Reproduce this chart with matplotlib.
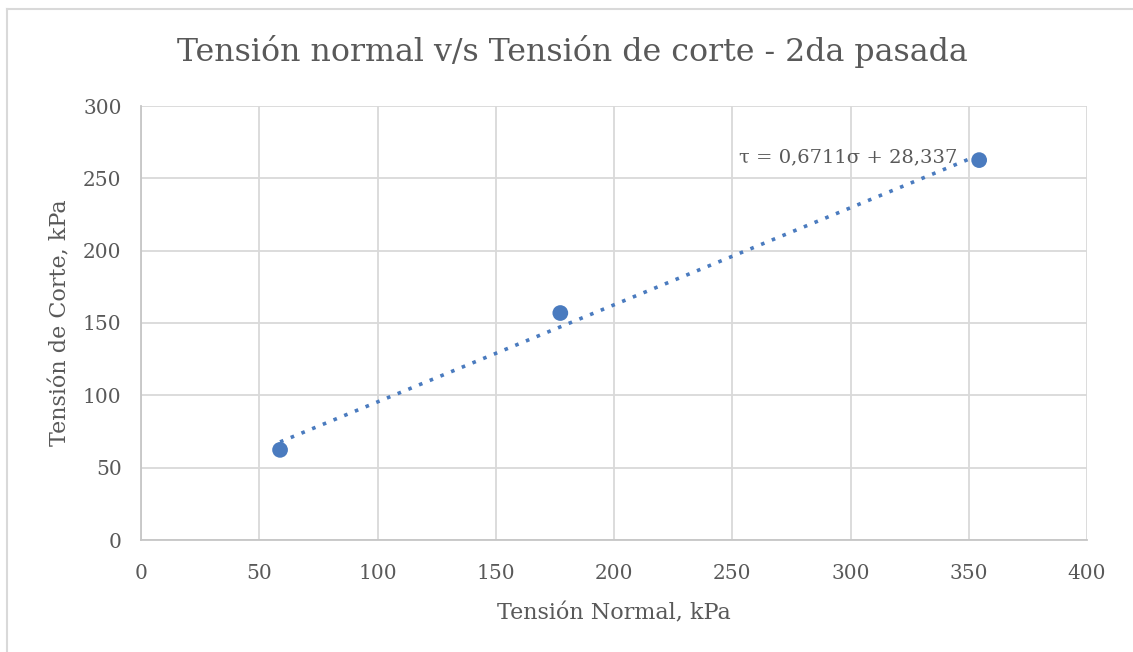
import numpy as np
import matplotlib
matplotlib.use("Agg")
import matplotlib.pyplot as plt
from matplotlib.lines import Line2D

# Ensayo de corte directo - segunda pasada
tension_normal = [58.8, 177.3, 354.4]      # kPa
tension_corte = [62.3, 156.9, 262.6]       # kPa
pendiente = 0.6711
intercepto = 28.337

x_ticks = [0, 50, 100, 150, 200, 250, 300, 350, 400]
y_ticks = [0, 50, 100, 150, 200, 250, 300]

azul = "#4a7bbf"
gris_texto = "#595959"
gris_rejilla = "#d9d9d9"
gris_eje = "#c6c6c6"

plt.rcParams["font.family"] = ["DejaVu Serif"]

fig = plt.figure(figsize=(11.33, 6.52), dpi=100)
ax = fig.add_axes([141 / 1133, 1 - 540 / 652, (1087 - 141) / 1133, (540 - 106) / 652])

# Marco exterior del gráfico (bordes superior e izquierdo)
y_sup = 1 - 8.5 / 652
x_izq = 6.5 / 1133
fig.add_artist(Line2D([x_izq, 1.0], [y_sup, y_sup], transform=fig.transFigure,
                      color=gris_rejilla, linewidth=1.5))
fig.add_artist(Line2D([x_izq, x_izq], [0.0, y_sup], transform=fig.transFigure,
                      color=gris_rejilla, linewidth=1.5))

ax.set_xlim(0, 400)
ax.set_ylim(0, 300)
ax.set_xticks(x_ticks)
ax.set_yticks(y_ticks)
ax.grid(True, color=gris_rejilla, linewidth=1.3)
ax.set_axisbelow(True)
for lado in ["top", "right"]:
    ax.spines[lado].set_visible(False)
for lado in ["bottom", "left"]:
    ax.spines[lado].set_color(gris_eje)
    ax.spines[lado].set_linewidth(1.3)
ax.tick_params(axis="both", length=0, labelsize=14.5, colors=gris_texto)
ax.tick_params(axis="x", pad=17)
ax.tick_params(axis="y", pad=14)

# Línea de tendencia lineal
xs = np.array([min(tension_normal), max(tension_normal)])
ax.plot(xs, pendiente * xs + intercepto, linestyle=(0, (1, 2.2)),
        color=azul, linewidth=2.6, zorder=2)

ax.scatter(tension_normal, tension_corte, s=128, color=azul, zorder=3,
           edgecolors="none")

ax.text(299, 264.7, "τ = 0,6711σ + 28,337", fontsize=14, color=gris_texto,
        ha="center", va="center", zorder=4)

ax.set_xlabel("Tensión Normal, kPa", fontsize=16, color=gris_texto, labelpad=14)
ax.set_ylabel("Tensión de Corte, kPa", fontsize=16, color=gris_texto, labelpad=8)

fig.text(572 / 1133, 1 - 52 / 652, "Tensión normal v/s Tensión de corte - 2da pasada",
         fontsize=22.8, color=gris_texto, ha="center", va="center")

fig.savefig("out.png", dpi=100)
